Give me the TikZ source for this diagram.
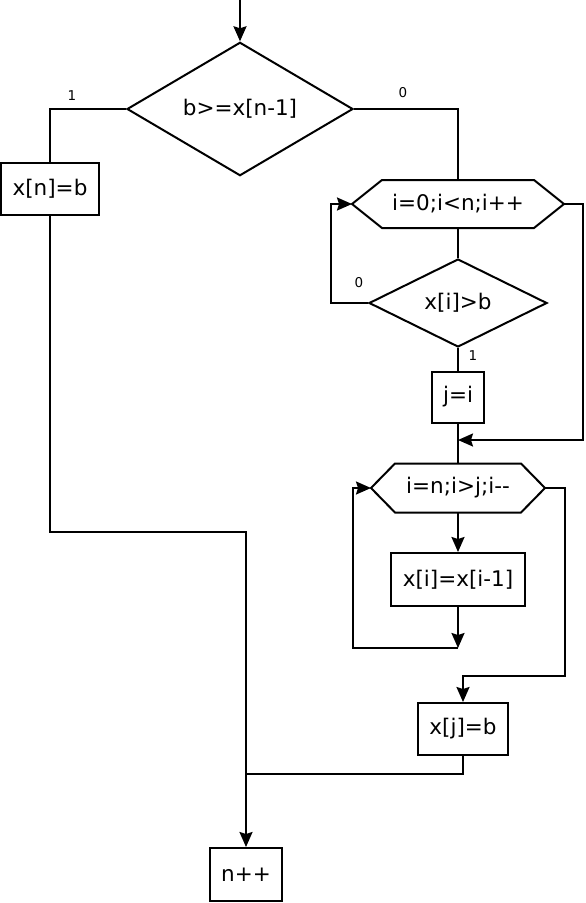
\documentclass[tikz,border=0pt]{standalone}
\usepackage{fontspec}
\setmainfont{DejaVu Sans}
\usetikzlibrary{shapes.geometric,arrows.meta,calc}
\begin{document}
\begin{tikzpicture}[x=1pt,y=-1pt,
  line width=2pt,
  every node/.style={font=\fontsize{21.5}{25}\selectfont},
  proc/.style={draw, rectangle, inner sep=0pt, line width=2pt},
  dec/.style={draw, diamond, inner sep=0pt, line width=2pt},
  hexbody/.style={rectangle, inner sep=0pt},
  hexline/.style={line width=2pt, line join=miter},
  lbl/.style={font=\fontsize{13.5}{15}\selectfont},
  arr/.style={-{Stealth[length=15pt,width=13pt,inset=2pt]}},
  ]
\useasboundingbox (0,0) rectangle (586,903);

\coordinate (start) at (240,0);
\node[dec, minimum width=226, minimum height=112] (d1) at (240,109) {b>=x[n-1]};
\node[proc, minimum width=98, minimum height=52] (xn) at (50,189) {x[n]=b};

\node[hexbody, minimum width=150, minimum height=46] (h1) at (458,204) {i=0;i<n;i++};
\coordinate (h1l) at ($(h1.west)-(30,0)$);
\coordinate (h1r) at ($(h1.east)+(30,0)$);
\draw[hexline] (h1.north west) -- (h1.north east) -- (h1r) -- (h1.south east) -- (h1.south west) -- (h1l) -- cycle;

\node[dec, minimum width=178, minimum height=88] (d2) at (458,303) {x[i]>b};
\node[proc, minimum width=52, minimum height=51] (ji) at (458,397) {j=i};
\coordinate (m1) at (458,440);

\node[hexbody, minimum width=124, minimum height=47] (h2) at (458,488) {i=n;i>j;i-{}-};
\coordinate (h2l) at ($(h2.west)-(24,0)$);
\coordinate (h2r) at ($(h2.east)+(24,0)$);
\draw[hexline] (h2.north west) -- (h2.north east) -- (h2r) -- (h2.south east) -- (h2.south west) -- (h2l) -- cycle;

\node[proc, minimum width=134, minimum height=53] (xi) at (458,579.5) {x[i]=x[i-1]};
\coordinate (m2) at (458,648);
\coordinate (c3) at (463,676);
\node[proc, minimum width=90, minimum height=52] (xj) at (463,729) {x[j]=b};
\coordinate (m3) at (246,774);
\coordinate (c4) at (50,532);
\node[proc, minimum width=72, minimum height=53] (np) at (246,874.5) {n++};

% connectors
\draw[arr] (start) -- (d1.north);
\draw (d1.west) -| (xn.north);
\draw (d1.east) -| (h1.north);
\draw (h1.south) -- (d2.north);
\draw[arr] (d2.west) -- ++(-37,0) |- (h1l);
\draw (d2.south) -- (ji.north);
\draw (ji.south) -- (h2.north);
\draw[arr] (h1r) -- ++(19,0) |- (m1);
\draw[arr] (h2.south) -- (xi.north);
\draw[arr] (xi.south) -- (m2);
\draw[arr] (m2) -- ++(-105,0) |- (h2l);
\draw[arr] (h2r) -- ++(20,0) |- (c3) -- (xj.north);
\draw (xj.south) |- (m3);
\draw[arr] (xn.south) -- (c4) -| (np.north);

% labels
\node[lbl] (l1) at (72,96) {1};
\node[lbl] (l2) at (403,93) {0};
\node[lbl] (l3) at (359,283) {0};
\node[lbl] (l4) at (473,356) {1};
\end{tikzpicture}
\end{document}
